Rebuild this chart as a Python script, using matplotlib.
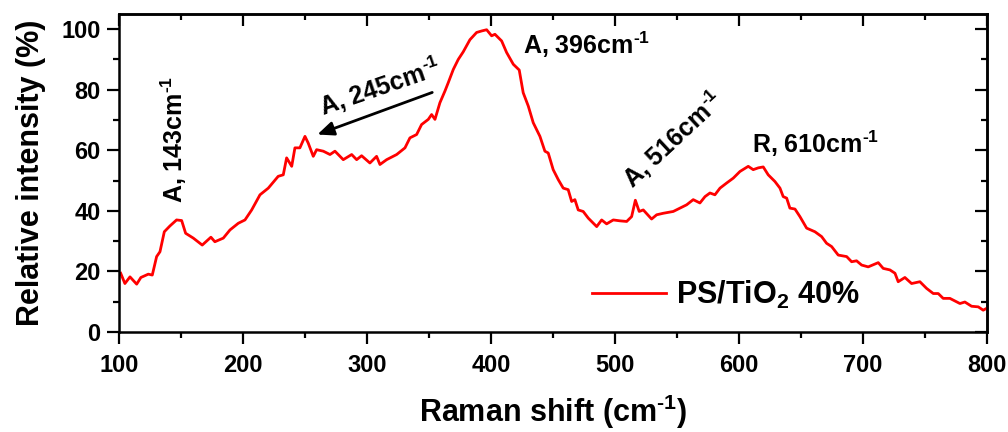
import numpy as np
import matplotlib
matplotlib.use("Agg")
import matplotlib.pyplot as plt
from matplotlib.ticker import MultipleLocator

plt.rcParams['font.family'] = ['Liberation Sans', 'DejaVu Sans']
plt.rcParams['font.weight'] = 'bold'
plt.rcParams['axes.labelweight'] = 'bold'
plt.rcParams['mathtext.fontset'] = 'custom'
plt.rcParams['mathtext.rm'] = 'Liberation Sans:bold'
plt.rcParams['mathtext.bf'] = 'Liberation Sans:bold'
plt.rcParams['mathtext.default'] = 'rm'

# Raman spectrum (cm-1, relative intensity %)
shift = [101, 104.4, 108.5, 113.9, 117.3, 123.3, 126.5, 130, 132.7, 136.2, 140.7, 146.1,
         150.2, 153.4, 159.6, 166.8, 173.8, 177, 183.8, 189.2, 195.9, 201.3, 206.7,
         213.4, 220.1, 228.1, 232.2, 234.9, 239, 241.6, 245.6, 249.7, 252.3, 256.4,
         259.1, 264.5, 269.9, 273.9, 280.6, 287.4, 291.4, 295.4, 302.1, 307.5, 310.2,
         315.6, 323.7, 330.4, 334.4, 339.8, 343.8, 349.2, 351.9, 354.6, 358.6, 362.7,
         365.3, 369.4, 373.4, 377.4, 382.8, 388.2, 392.3, 396.3, 400.3, 403, 408.4,
         412.4, 417.8, 422.6, 425.8, 429.9, 433.9, 439.3, 443.3, 446, 450, 454.1,
         458.1, 462.1, 464.9, 467.5, 470.2, 474.2, 478.3, 485.1, 489.1, 493.1, 498.5,
         503.9, 509.3, 513.3, 516.3, 519.4, 522.7, 529.4, 533.5, 538.8, 546.9, 552.3,
         557.7, 563, 568.4, 572.5, 576.5, 580.5, 584.6, 590, 595.3, 600.7, 607.4,
         611.4, 615.5, 619.5, 623.5, 628.9, 633, 635.6, 638.4, 641, 645.1, 649.1,
         654.5, 661.2, 666.6, 670.6, 674.7, 680, 686.8, 690.8, 694.8, 698.9, 704.2,
         712.3, 716.3, 721.7, 725.8, 728.4, 733.8, 739.2, 745.9, 751.3, 756.7, 760.7,
         764.7, 770.1, 778.2, 782.2, 787.6, 793, 797, 799.7]
intensity = [19.4, 16.0, 18.2, 15.8, 18.0, 19.1, 18.8, 24.9, 26.5, 33.1, 35.0, 37.0,
             36.8, 32.6, 31.0, 28.7, 31.3, 29.8, 31.0, 33.7, 35.9, 37.0, 40.3,
             45.3, 47.5, 51.4, 51.9, 57.5, 54.7, 60.8, 60.8, 64.6, 62.4, 58.0,
             60.2, 59.7, 58.6, 59.7, 56.9, 58.6, 56.9, 58.2, 55.8, 58.0, 55.3,
             56.9, 58.6, 60.8, 64.1, 65.2, 68.5, 70.2, 71.8, 70.2, 75.7, 79.6,
             82.3, 86.7, 90.0, 92.5, 96.5, 98.9, 99.4, 99.8, 97.8, 98.3, 96.1,
             92.3, 88.4, 86.5, 79.0, 74.6, 69.1, 64.6, 59.7, 59.1, 53.6, 50.3,
             47.5, 47.0, 43.1, 43.7, 40.3, 39.8, 37.6, 34.8, 37.0, 35.7, 37.0,
             36.7, 36.5, 38.1, 43.5, 39.8, 40.3, 37.3, 38.7, 39.2, 39.8, 40.9,
             42.0, 43.7, 42.6, 44.7, 45.9, 45.3, 47.5, 49.2, 50.8, 53.0, 54.7,
             53.6, 54.2, 54.5, 51.9, 49.7, 47.5, 44.7, 44.2, 40.9, 40.6, 38.1,
             34.3, 33.1, 31.5, 29.3, 28.2, 25.4, 24.9, 23.2, 23.5, 22.1, 21.5,
             22.9, 21.0, 20.5, 19.4, 16.6, 18.0, 16.0, 16.6, 14.4, 12.7, 12.7,
             11.1, 11.1, 9.4, 9.9, 8.5, 8.3, 7.2, 7.8]

SUP = r'$^{\mathrm{\u2010}1}$'.replace(r'\u2010', '\u2010')

fig = plt.figure(figsize=(10.08, 4.32), dpi=100)
ax = fig.add_axes([0.1185, 0.2315, 0.8606, 0.7361])

ax.plot(shift, intensity, color='red', lw=2, label=r'PS/TiO$_2$ 40%')

ax.set_xlim(100, 800)
ax.set_ylim(0, 105)
ax.xaxis.set_major_locator(MultipleLocator(100))
ax.xaxis.set_minor_locator(MultipleLocator(50))
ax.yaxis.set_major_locator(MultipleLocator(20))
ax.yaxis.set_minor_locator(MultipleLocator(10))
ax.tick_params(which='major', direction='out', length=8.5, width=1.6, labelsize=17)
ax.tick_params(which='minor', direction='out', length=4.5, width=1.6)
ax.tick_params(axis='x', pad=7)
ax.tick_params(axis='y', pad=5)
for s in ax.spines.values():
    s.set_linewidth(1.8)

# mirrored ticks on top / right pointing inward
top = ax.secondary_xaxis('top')
top.xaxis.set_major_locator(MultipleLocator(100))
top.xaxis.set_minor_locator(MultipleLocator(50))
top.tick_params(which='major', direction='in', length=8.5, width=1.6, labeltop=False)
top.tick_params(which='minor', direction='in', length=4.5, width=1.6)
right = ax.secondary_yaxis('right')
right.yaxis.set_major_locator(MultipleLocator(20))
right.yaxis.set_minor_locator(MultipleLocator(10))
right.tick_params(which='major', direction='in', length=8.5, width=1.6, labelright=False)
right.tick_params(which='minor', direction='in', length=4.5, width=1.6)
for a in (top, right):
    for s in a.spines.values():
        s.set_linewidth(1.8)

ax.set_xlabel('Raman shift (cm' + SUP + ')', fontsize=22, fontweight='bold', labelpad=12)
ax.set_ylabel('Relative intensity (%)', fontsize=22, fontweight='bold', labelpad=11)

fs = 18
ax.text(144, 42.5, 'A, 143cm' + SUP, fontsize=fs, rotation=90, ha='center', va='bottom')
ax.text(425.6, 91.7, 'A, 396cm' + SUP, fontsize=fs, ha='left', va='baseline')
ax.text(610.1, 59.2, 'R, 610cm' + SUP, fontsize=fs, ha='left', va='baseline')
ax.text(514.3, 47.0, 'A, 516cm' + SUP, fontsize=fs, rotation=43,
        rotation_mode='anchor', ha='left', va='baseline')
ax.text(264.5, 71.3, 'A, 245cm' + SUP, fontsize=fs, rotation=19,
        rotation_mode='anchor', ha='left', va='baseline')
ax.annotate('', xy=(259.7, 65.2), xytext=(352.4, 79.1),
            arrowprops=dict(arrowstyle='-|>,head_length=0.7,head_width=0.3',
                            color='black', lw=2, mutation_scale=14,
                            shrinkA=0, shrinkB=0))

ax.legend(loc='center left', bbox_to_anchor=(0.545, 0.116), frameon=False,
          prop={'size': 22, 'weight': 'bold'}, handlelength=2.4, handletextpad=0.33,
          borderpad=0, borderaxespad=0)

fig.savefig('out.png', dpi=100)
